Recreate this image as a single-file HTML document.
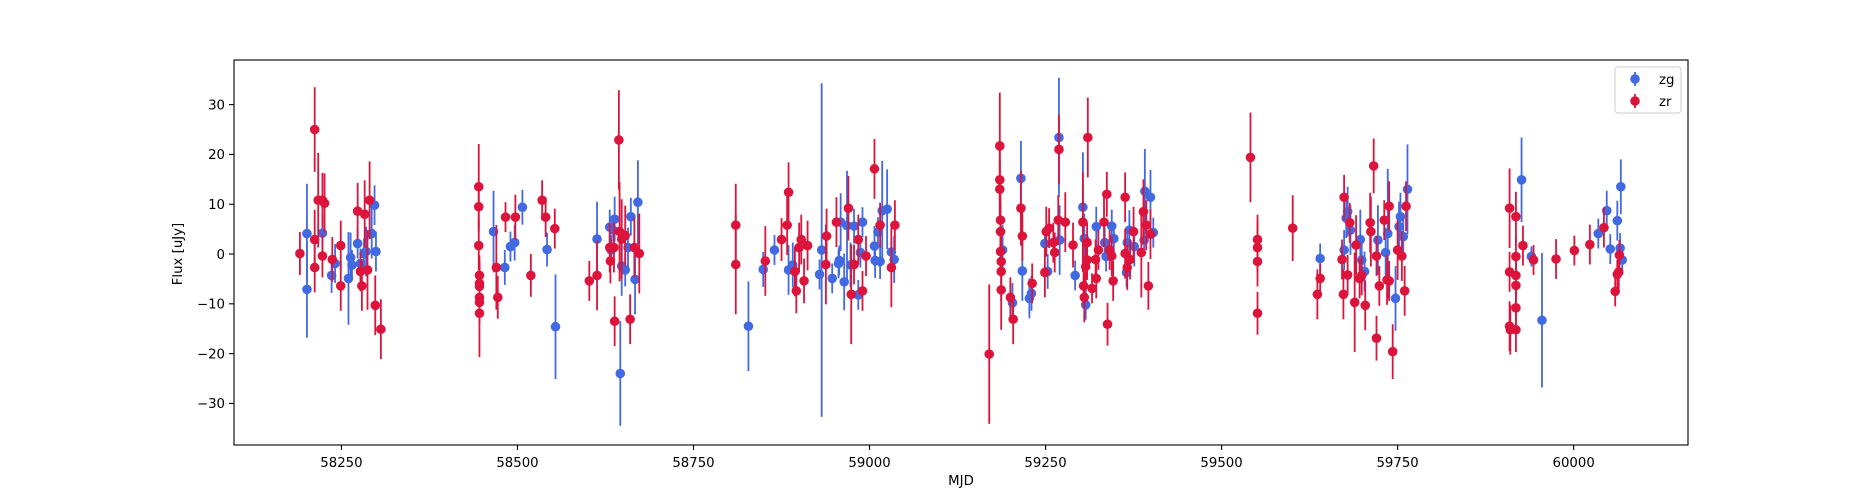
<!DOCTYPE html>
<html><head><meta charset="utf-8"><style>
html,body{margin:0;padding:0;background:#fff;}
svg{display:block;font-family:"DejaVu Sans","Liberation Sans",sans-serif;}
</style></head><body>
<svg id="chart" width="1875" height="500" viewBox="0 0 1875 500">
<rect width="1875" height="500" fill="#fff"/>
<g id="marks"></g>
<rect x="234" y="60" width="1454" height="385" fill="none" stroke="#000" stroke-width="1.1"/>
<g id="axes"></g>
<text x="182" y="254" font-size="13.3" text-anchor="middle" transform="rotate(-90 182 254)">Flux [uJy]</text>
<text x="961" y="485" font-size="13.3" text-anchor="middle">MJD</text>
<g>
<rect x="1615" y="67" width="66" height="46" rx="3" fill="#fff" stroke="#ccc" stroke-width="1"/>
<line x1="1635" y1="72" x2="1635" y2="86" stroke="#4169E1" stroke-width="1.8"/>
<circle cx="1635" cy="79" r="4.8" fill="#4169E1"/>
<text x="1659" y="84" font-size="13.3">zg</text>
<line x1="1635" y1="94" x2="1635" y2="108" stroke="#DC143C" stroke-width="1.8"/>
<circle cx="1635" cy="101" r="4.8" fill="#DC143C"/>
<text x="1659" y="106" font-size="13.3">zr</text>
</g>
</svg>
<script>
const xTicks = [58250, 58500, 58750, 59000, 59250, 59500, 59750, 60000];
const yTicks = [-30, -20, -10, 0, 10, 20, 30];
const zgMjd = [58201,58201,58223,58236,58241,58260,58263,58265,58273,58277,58282,58285,58293,58297,58299,
58466,58482,58490,58496,58507,58542,58554,58613,58631,58636,58638,58633,58648,58653,58657,58661,58667,58671,58646,
58828,58849,58865,58885,58891,58929,58932,58947,58956,58957,58959,58964,58968,58973,58978,58984,58987,58990,59007,59008,59012,59015,59018,59025,59031,59035,
59189,59203,59215,59217,59227,59230,59249,59253,59269,59270,59292,59303,59305,59307,59322,59334,59344,59347,59336,59366,59365,59369,59376,59391,59399,59403,59390,
59640,59679,59677,59683,59674,59697,59699,59703,59722,59733,59736,59747,59752,59754,59764,59758,
59926,59940,59955,60035,60047,60052,60062,60067,60069,60066];
const zgFlux = [4.1,-7.1,4.2,-4.3,-1.9,-4.9,-0.7,-2.2,2.1,-1.9,0.1,0.5,4.1,9.8,0.5,
4.5,-2.7,1.5,2.3,9.4,0.9,-14.6,3.0,5.4,4.8,7.0,0.8,-2.4,-3.2,1.3,7.5,-5.1,10.4,-24,
-14.5,-3.1,0.8,-3.2,-2.2,-4.1,0.8,-4.9,-1.9,-1.3,6.4,-5.6,5.7,-2.2,5.6,-8.2,0.3,6.4,1.6,-1.3,4.4,-1.5,8.7,9.0,0.4,-1.1,
0.8,-9.8,15.2,-3.4,-8.9,-7.9,2.1,-3.5,23.4,2.8,-4.3,9.4,3.1,-10.2,5.5,2.3,5.6,3.1,-0.5,2.3,-3.7,4.8,1.5,12.6,11.4,4.3,2.8,
-0.9,8.5,7.2,4.8,0.8,2.9,-1.2,-3.5,2.8,0.3,4.1,-8.9,5.5,7.5,13.0,3.5,
14.9,-0.5,-13.3,4.1,8.7,1.0,6.7,13.5,-1.2,1.2];
const zgErr = [10,9.7,3.6,3.5,3.9,9.3,5,3,3,3,3,5,5,4,4,
8.2,3.5,3,3.6,3.5,3.4,10.5,7.5,3.5,3,4.5,3,6,3.3,4,3.8,7,8.4,10.5,
9,3.5,3,5,4.5,3,33.5,3,3,3,5.8,5.7,11,4.5,3.5,3,3,3,4,3.5,3,3.5,10,8,3,4.7,
5,4,7.5,6,4,3.5,3,3.5,12,7,3,11,5,3,4,3,3.3,3,3,3,3,4,4,8.5,5.5,3,3,
3,5,4,5,4,6,4,4,7,5,13,6.5,5,4.8,9,4,
8.5,2,13.5,3,4,3,4,5.5,3,3];
const zrMjd = [58191,58212,58212,58212,58217,58223,58226,58223,58237,58249,58249,58273,58277,58279,58283,58287,58290,58298,58306,
58445,58445,58445,58446,58446,58446,58446,58446,58446,58470,58472,58483,58497,58519,58535,58540,58553,
58602,58613,58644,58638,58631,58637,58632,58645,58648,58653,58660,58666,58673,
58810,58810,58852,58875,58883,58885,58894,58896,58900,58903,58907,58912,58938,58939,58953,58970,58974,58978,58984,58990,58995,59007,59015,59031,59036,
59170,59185,59185,59185,59186,59186,59186,59187,59187,59187,59200,59204,59215,59217,59231,59251,59255,59249,59261,59263,59269,59268,59278,59289,
59303,59309,59307,59309,59304,59305,59310,59316,59322,59321,59325,59333,59337,59338,59344,59341,59346,59363,59363,59366,59370,59375,59386,59389,59393,59399,59396,
59541,59551,59551,59551,59551,59601,59640,59636,59674,59682,59671,59679,59673,59691,59696,59699,59689,59704,59711,59712,59716,59720,59720,59724,59731,59738,59735,59738,59743,59750,59756,59760,59762,
59909,59909,59909,59910,59918,59918,59918,59918,59918,59918,59928,59943,59975,60001,60023,60043,60059,60062,60064,60065];
const zrFlux = [0.1,25,2.9,-2.7,10.8,10.8,10.2,-0.4,-1.1,1.7,-6.4,8.6,-3.5,-6.4,8.0,-3.2,10.8,-10.3,-15.1,
13.5,9.5,1.7,-4.3,-5.9,-6.5,-8.7,-9.7,-11.9,-2.7,-8.7,7.4,7.4,-4.3,10.8,7.4,5.1,
-5.4,-4.3,22.9,-13.5,1.3,1.3,-1.4,4.5,3.0,3.7,-13.1,1.3,0.1,
5.8,-2.1,-1.4,2.9,5.8,12.4,-3.5,-7.4,1.3,2.9,-5.4,1.7,-2.1,3.6,6.4,9.2,-8.1,-2.1,2.9,-7.4,-0.4,17.1,5.8,-2.7,5.8,
-20.1,21.7,14.9,13.0,6.8,4.5,0.5,-1.5,-3.5,-7.2,-8.7,-13.1,9.2,3.6,-5.9,4.5,5.2,-3.7,2.3,0.3,21.0,6.8,6.4,1.8,
6.4,2.3,-2.5,-1.2,-6.4,-8.7,23.4,-6.9,-4.9,-1.1,0.8,6.4,12.0,-14.1,-0.4,0.8,-5.4,11.4,0.1,-2.7,-1.1,4.5,0.3,8.5,5.8,4.0,-6.4,
19.4,2.9,1.3,-1.5,-11.9,5.2,-4.9,-8.1,11.4,6.3,-1.1,-4.2,-8.1,1.8,-4.9,-4.3,-9.7,-10.3,6.3,4.5,17.7,-16.9,-0.4,-6.4,6.8,9.6,-5.2,-5.4,-19.6,0.8,-0.4,-7.4,9.6,
9.2,-3.6,-14.5,-15.2,7.5,-0.5,-4.3,-6.3,-10.8,-15.2,1.7,-1.2,-1.0,0.7,1.9,5.3,-7.5,-4.1,-3.6,-0.2];
const zrErr = [4.3,8.5,6,5,9.5,5.5,6,4.3,4.5,5,5,5.7,4,5,6.8,8,7.8,6,6,
8.6,5,5,4,4,5,4,4,8.8,8.5,4.3,3,4.5,4.3,4,4,4,
4,7,10,5,5,5,4.5,10,8,6,5,6,8,
8.3,10,7,4.3,6,6,5,4.5,5,5,4.5,5,8,5.5,5,6.5,10,4,5,4,4,6,4.5,8,5,
14,10.7,7,6,6,6,4.5,5,6,8,4,5,7.5,5,4,5,4,5,4,4,7,5,6,4.5,
10,4,5,4,4,5,8,3,4,4,4,5,4.5,4.3,4,4,4,5,5,4.5,4,5,9,6.5,5,5,4.8,
9,5,5,5,4.3,6.6,3,5,4.5,4,4,4,5,6,4,4,10,5,6,7,5.5,4.5,4,4,4,5,5,4,5.5,6,5,5,5,
8,4,5,5,5,4,4,5,5,4.5,4,3,4,3,4,4,3,3,4,3];

const X0 = 58097.4, X1 = 60162.4, PL = 234, PR = 1688;
const Y0 = -38.35, Y1 = 38.96, PB = 445, PT = 60;
function xs(v){ return PL + (v - X0) / (X1 - X0) * (PR - PL); }
function ys(v){ return PB - (v - Y0) / (Y1 - Y0) * (PB - PT); }
const NS = 'http://www.w3.org/2000/svg';
function mk(tag, attrs, parent){ const e = document.createElementNS(NS, tag); for (const k in attrs) e.setAttribute(k, attrs[k]); parent.appendChild(e); return e; }

const axes = document.getElementById('axes');
xTicks.forEach(t => {
  const x = xs(t);
  const tk = mk('line', {x1:x, x2:x, y1:445, y2:450, stroke:'#000', 'stroke-width':1.1}, axes);
  
  
  const lb = mk('text', {x:x, y:467, 'font-size':13.3, 'text-anchor':'middle'}, axes);
  lb.textContent = t;
  
  
});
yTicks.forEach(t => {
  const y = ys(t);
  const tk = mk('line', {x1:229, x2:234, y1:y, y2:y, stroke:'#000', 'stroke-width':1.1}, axes);
  
  
  const lb = mk('text', {x:225, y:y + 4.8, 'font-size':13.3, 'text-anchor':'end'}, axes);
  lb.textContent = t < 0 ? '\u2212' + Math.abs(t) : String(t);
  
  
});

const marks = document.getElementById('marks');
function series(mjd, flux, err, color, name){
  const g = mk('g', {}, marks);
  
  
  for (let i = 0; i < mjd.length; i++) {
    const x = xs(mjd[i]);
    const l = mk('line', {x1:x, x2:x, y1:ys(flux[i] - err[i]), y2:ys(flux[i] + err[i]), stroke:color, 'stroke-width':1.8}, g);
    
    
  }
  for (let i = 0; i < mjd.length; i++) {
    const c = mk('circle', {cx:xs(mjd[i]), cy:ys(flux[i]), r:4.8, fill:color}, g);
    
    
  }
}
series(zgMjd, zgFlux, zgErr, '#4169E1', 'zg');
series(zrMjd, zrFlux, zrErr, '#DC143C', 'zr');
</script>
</body></html>
